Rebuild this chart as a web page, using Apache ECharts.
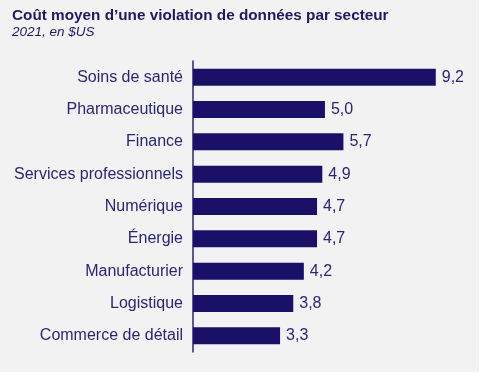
<!DOCTYPE html>
<html>
<head>
<meta charset="utf-8">
<script src="https://cdn.jsdelivr.net/npm/echarts@6/dist/echarts.min.js"></script>
<style>
html, body { margin: 0; padding: 0; background: #ffffff; }
#chart { width: 479px; height: 372px; }
</style>
</head>
<body>
<div id="chart"></div>
<script>
// secteurs, du haut vers le bas
const secteurs = ['Soins de santé', 'Pharmaceutique', 'Finance', 'Services professionnels',
  'Numérique', 'Énergie', 'Manufacturier', 'Logistique', 'Commerce de détail'];
const couts = [9.2, 5.0, 5.7, 4.9, 4.7, 4.7, 4.2, 3.8, 3.3];

const chart = echarts.init(document.getElementById('chart'));

chart.setOption({
  backgroundColor: '#f2f2f3',
  animation: false,
  title: {
    text: 'Coût moyen d’une violation de données par secteur',
    subtext: '2021, en $US',
    left: 7,
    top: 3,
    itemGap: 2,
    textStyle: { fontFamily: 'Liberation Sans', fontWeight: 'bold', fontSize: 15.3, color: '#1f1a5e' },
    subtextStyle: { fontFamily: 'Liberation Sans', fontStyle: 'italic', fontSize: 13.5, color: '#1f1a5e' }
  },
  grid: { left: 193, top: 61, width: 285, height: 291 },
  xAxis: {
    type: 'value',
    min: 0,
    max: 10.8,
    show: false
  },
  yAxis: {
    type: 'category',
    inverse: true,
    data: secteurs,
    axisLine: { show: true, lineStyle: { color: '#2a2670', width: 1.5 } },
    axisTick: { show: false },
    axisLabel: { fontFamily: 'Liberation Sans', fontSize: 16, color: '#2a2670', margin: 10 }
  },
  series: [{
    type: 'bar',
    data: couts,
    barWidth: 17,
    itemStyle: { color: '#1b1068' },
    label: {
      show: true,
      position: 'right',
      distance: 6,
      fontFamily: 'Liberation Sans',
      fontSize: 16,
      color: '#2a2670',
      formatter: p => p.value.toFixed(1).replace('.', ',')
    }
  }]
});
</script>
</body>
</html>
